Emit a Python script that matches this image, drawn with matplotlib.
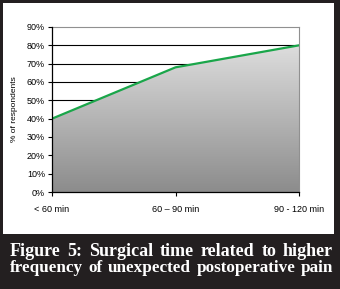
import numpy as np
import matplotlib.pyplot as plt
from matplotlib.patches import Rectangle
from matplotlib.colors import LinearSegmentedColormap

# data
categories = ['< 60 min', '60 \u2013 90 min', '90 - 120 min']
percent = [40, 68, 80]
yticks = [0, 10, 20, 30, 40, 50, 60, 70, 80, 90]
caption_lines = ['Figure 5: Surgical time related to higher',
                 'frequency of unexpected postoperative pain']

W, H = 340, 289
fig = plt.figure(figsize=(W / 100, H / 100), dpi=100, facecolor='#231f20')

# white panel of the figure
fig.patches.append(Rectangle((3 / W, 1 - 234 / H), 331 / W, 231 / H,
                             transform=fig.transFigure, facecolor='white',
                             edgecolor='none', zorder=-5))

ax = fig.add_axes([52 / W, 1 - 192 / H, 247 / W, 165 / H])
ax.set_facecolor('white')
x = np.arange(len(categories))

# gridlines sit behind the area
for t in yticks[1:-1]:
    ax.axhline(t, color='black', lw=0.8, zorder=0.5)

# gradient area under the line
poly = ax.fill_between(x, percent, 0, facecolor='none', edgecolor='none')
cmap = LinearSegmentedColormap.from_list('g', ['#8c8c8c', '#e2e2e2'])
grad = np.linspace(0, 1, 256).reshape(-1, 1)
img = ax.imshow(grad, cmap=cmap, origin='lower', aspect='auto',
                extent=[0, 2, 0, 85], zorder=1)
img.set_clip_path(poly.get_paths()[0], transform=ax.transData)

ax.plot(x, percent, color='#1aa64a', lw=1.6, zorder=3)

ax.set_xlim(0, 2)
ax.set_ylim(0, 90)
ax.set_yticks(yticks)
ax.set_yticklabels([f'{t}%' for t in yticks], fontsize=6.5, family='Liberation Sans')
ax.set_xticks(x)
ax.set_xticklabels(categories, fontsize=6.5, family='Liberation Sans')
ax.tick_params(axis='y', length=3, width=0.8, pad=2)
ax.tick_params(axis='x', length=3, width=0.8, pad=6)
ax.set_ylabel('% of respondents', fontsize=6, family='Liberation Sans', labelpad=6)
for s in ['left', 'bottom']:
    ax.spines[s].set_color('black')
    ax.spines[s].set_linewidth(0.9)
    ax.spines[s].set_zorder(4)
for s in ['top', 'right']:
    ax.spines[s].set_color('#909090')
    ax.spines[s].set_linewidth(0.8)

# justified caption
fig.canvas.draw()
r = fig.canvas.get_renderer()
left, right = 10, 333
ys = [252, 268]
sizes = [13, 12.3]
for i, line in enumerate(caption_lines):
    words = line.split(' ')
    texts = [fig.text(0, 1 - ys[i] / H, w, color='white', fontsize=sizes[i],
                      family='Liberation Serif', weight='bold', va='center')
             for w in words]
    widths = [t.get_window_extent(r).width for t in texts]
    gap = (right - left - sum(widths)) / (len(words) - 1)
    pos = left
    for t, w in zip(texts, widths):
        t.set_x(pos / W)
        pos += w + gap

fig.savefig('out.png', dpi=100, facecolor=fig.get_facecolor())
